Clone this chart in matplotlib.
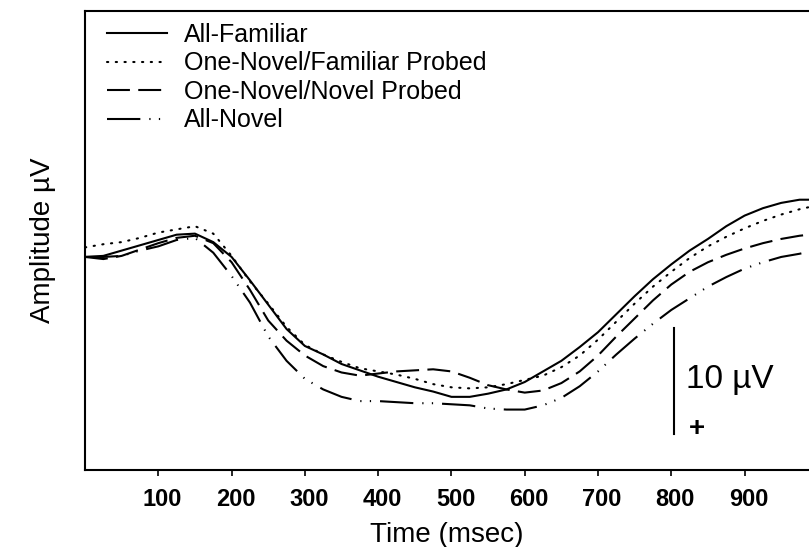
import matplotlib
matplotlib.use("Agg")
import matplotlib.pyplot as plt
from matplotlib.transforms import ScaledTranslation

plt.rcParams['font.family'] = ['Liberation Sans', 'DejaVu Sans']

# time axis (ms) and grand-average amplitudes (uV, positive plotted downward)
time_ms = [0, 25, 50, 75, 100, 125, 150, 175, 200, 225, 250, 275, 300, 325, 350,
           375, 400, 425, 450, 475, 500, 525, 550, 575, 600, 625, 650, 675, 700,
           725, 750, 775, 800, 825, 850, 875, 900, 925, 950, 975, 988]

all_familiar = [0.0, -0.1, -0.6, -1.1, -1.6, -2.1, -2.2, -1.4, 0.0, 2.2, 4.5, 6.8, 8.4,
                9.2, 10.1, 10.7, 11.3, 11.8, 12.3, 12.7, 13.2, 13.2, 12.9, 12.5, 11.8,
                10.8, 9.8, 8.5, 7.1, 5.4, 3.7, 2.1, 0.7, -0.6, -1.7, -2.9, -3.9, -4.6,
                -5.1, -5.4, -5.4]
one_novel_fam = [-0.9, -1.2, -1.4, -1.8, -2.3, -2.6, -2.9, -2.2, -0.1, 2.3, 4.4, 6.6, 8.3,
                 9.2, 9.9, 10.5, 10.8, 11.1, 11.5, 12.0, 12.3, 12.4, 12.3, 12.0, 11.6,
                 11.2, 10.4, 9.3, 7.8, 6.1, 4.4, 2.8, 1.4, 0.1, -1.0, -1.9, -2.7, -3.4,
                 -4.0, -4.5, -4.7]
one_novel_nov = [0.0, 0.2, -0.1, -0.7, -1.3, -1.8, -2.0, -1.3, 0.5, 3.1, 6.0, 7.9, 9.3,
                 10.3, 10.9, 11.2, 11.0, 10.8, 10.7, 10.6, 10.8, 11.4, 12.1, 12.5, 12.8,
                 12.6, 11.9, 10.8, 9.3, 7.5, 5.8, 4.1, 2.6, 1.4, 0.5, -0.2, -0.8, -1.3,
                 -1.7, -2.0, -2.1]
all_novel = [0.0, 0.0, -0.1, -0.6, -1.0, -1.6, -1.8, -0.4, 1.8, 4.3, 7.5, 9.8, 11.5,
             12.5, 13.2, 13.6, 13.6, 13.7, 13.8, 13.8, 13.9, 14.0, 14.3, 14.4, 14.4,
             14.0, 13.3, 12.2, 10.8, 9.2, 7.7, 6.3, 5.0, 3.9, 2.8, 1.9, 1.1, 0.5,
             0.0, -0.3, -0.5]

labels = ["All-Familiar", "One-Novel/Familiar Probed", "One-Novel/Novel Probed", "All-Novel"]
xticks = [100, 200, 300, 400, 500, 600, 700, 800, 900]
scale_bar_uv = 10

fig = plt.figure(figsize=(8.09, 5.47), dpi=100)
ax = fig.add_axes([0.1051, 0.1408, 0.895, 0.839])

lw = 1.5
ax.plot(time_ms, all_familiar, color="black", lw=lw, label=labels[0])
ax.plot(time_ms, one_novel_fam, color="black", lw=lw, linestyle=(0, (0.6, 3.6)),
        dash_capstyle="round", label=labels[1])
ax.plot(time_ms, one_novel_nov, color="black", lw=lw, linestyle=(0, (11, 4)), label=labels[2])
ax.plot(time_ms, all_novel, color="black", lw=lw,
        linestyle=(0, (16, 4.3, 0.6, 4, 0.6, 4.3)), label=labels[3])

ax.set_xlim(0, 988)
ax.set_ylim(20.1, -23.2)

# calibration bar
bar_x = 803
ax.plot([bar_x, bar_x], [6.7, 6.7 + scale_bar_uv], color="black", lw=1.5)
ax.text(bar_x + 17, 11.6, "10 \u00b5V", fontsize=24, ha="left", va="center")
ax.text(bar_x + 32, 16.2, "+", fontsize=20, fontweight="bold", ha="center", va="center")

ax.set_xticks(xticks)
ax.set_xticklabels([str(t) for t in xticks], fontsize=17, fontweight="bold")
ax.tick_params(axis="x", direction="out", length=4, width=1.2, pad=9)
shift = ScaledTranslation(4 / 100, 0, fig.dpi_scale_trans)
for lab in ax.get_xticklabels():
    lab.set_transform(lab.get_transform() + shift)
ax.set_yticks([])
ax.spines["right"].set_visible(False)
for s in ["left", "bottom", "top"]:
    ax.spines[s].set_linewidth(1.5)

ax.set_xlabel("Time (msec)", fontsize=20, labelpad=8)
ax.set_ylabel("Amplitude \u00b5V", fontsize=20)
ax.yaxis.set_label_coords(-0.04, 0.5)

ax.legend(loc="upper left", bbox_to_anchor=(0.03, 0.974), frameon=False, fontsize=18,
          handlelength=2.4, handletextpad=0.7, labelspacing=0.18, borderpad=0,
          borderaxespad=0)

fig.savefig("out.png", dpi=100)
